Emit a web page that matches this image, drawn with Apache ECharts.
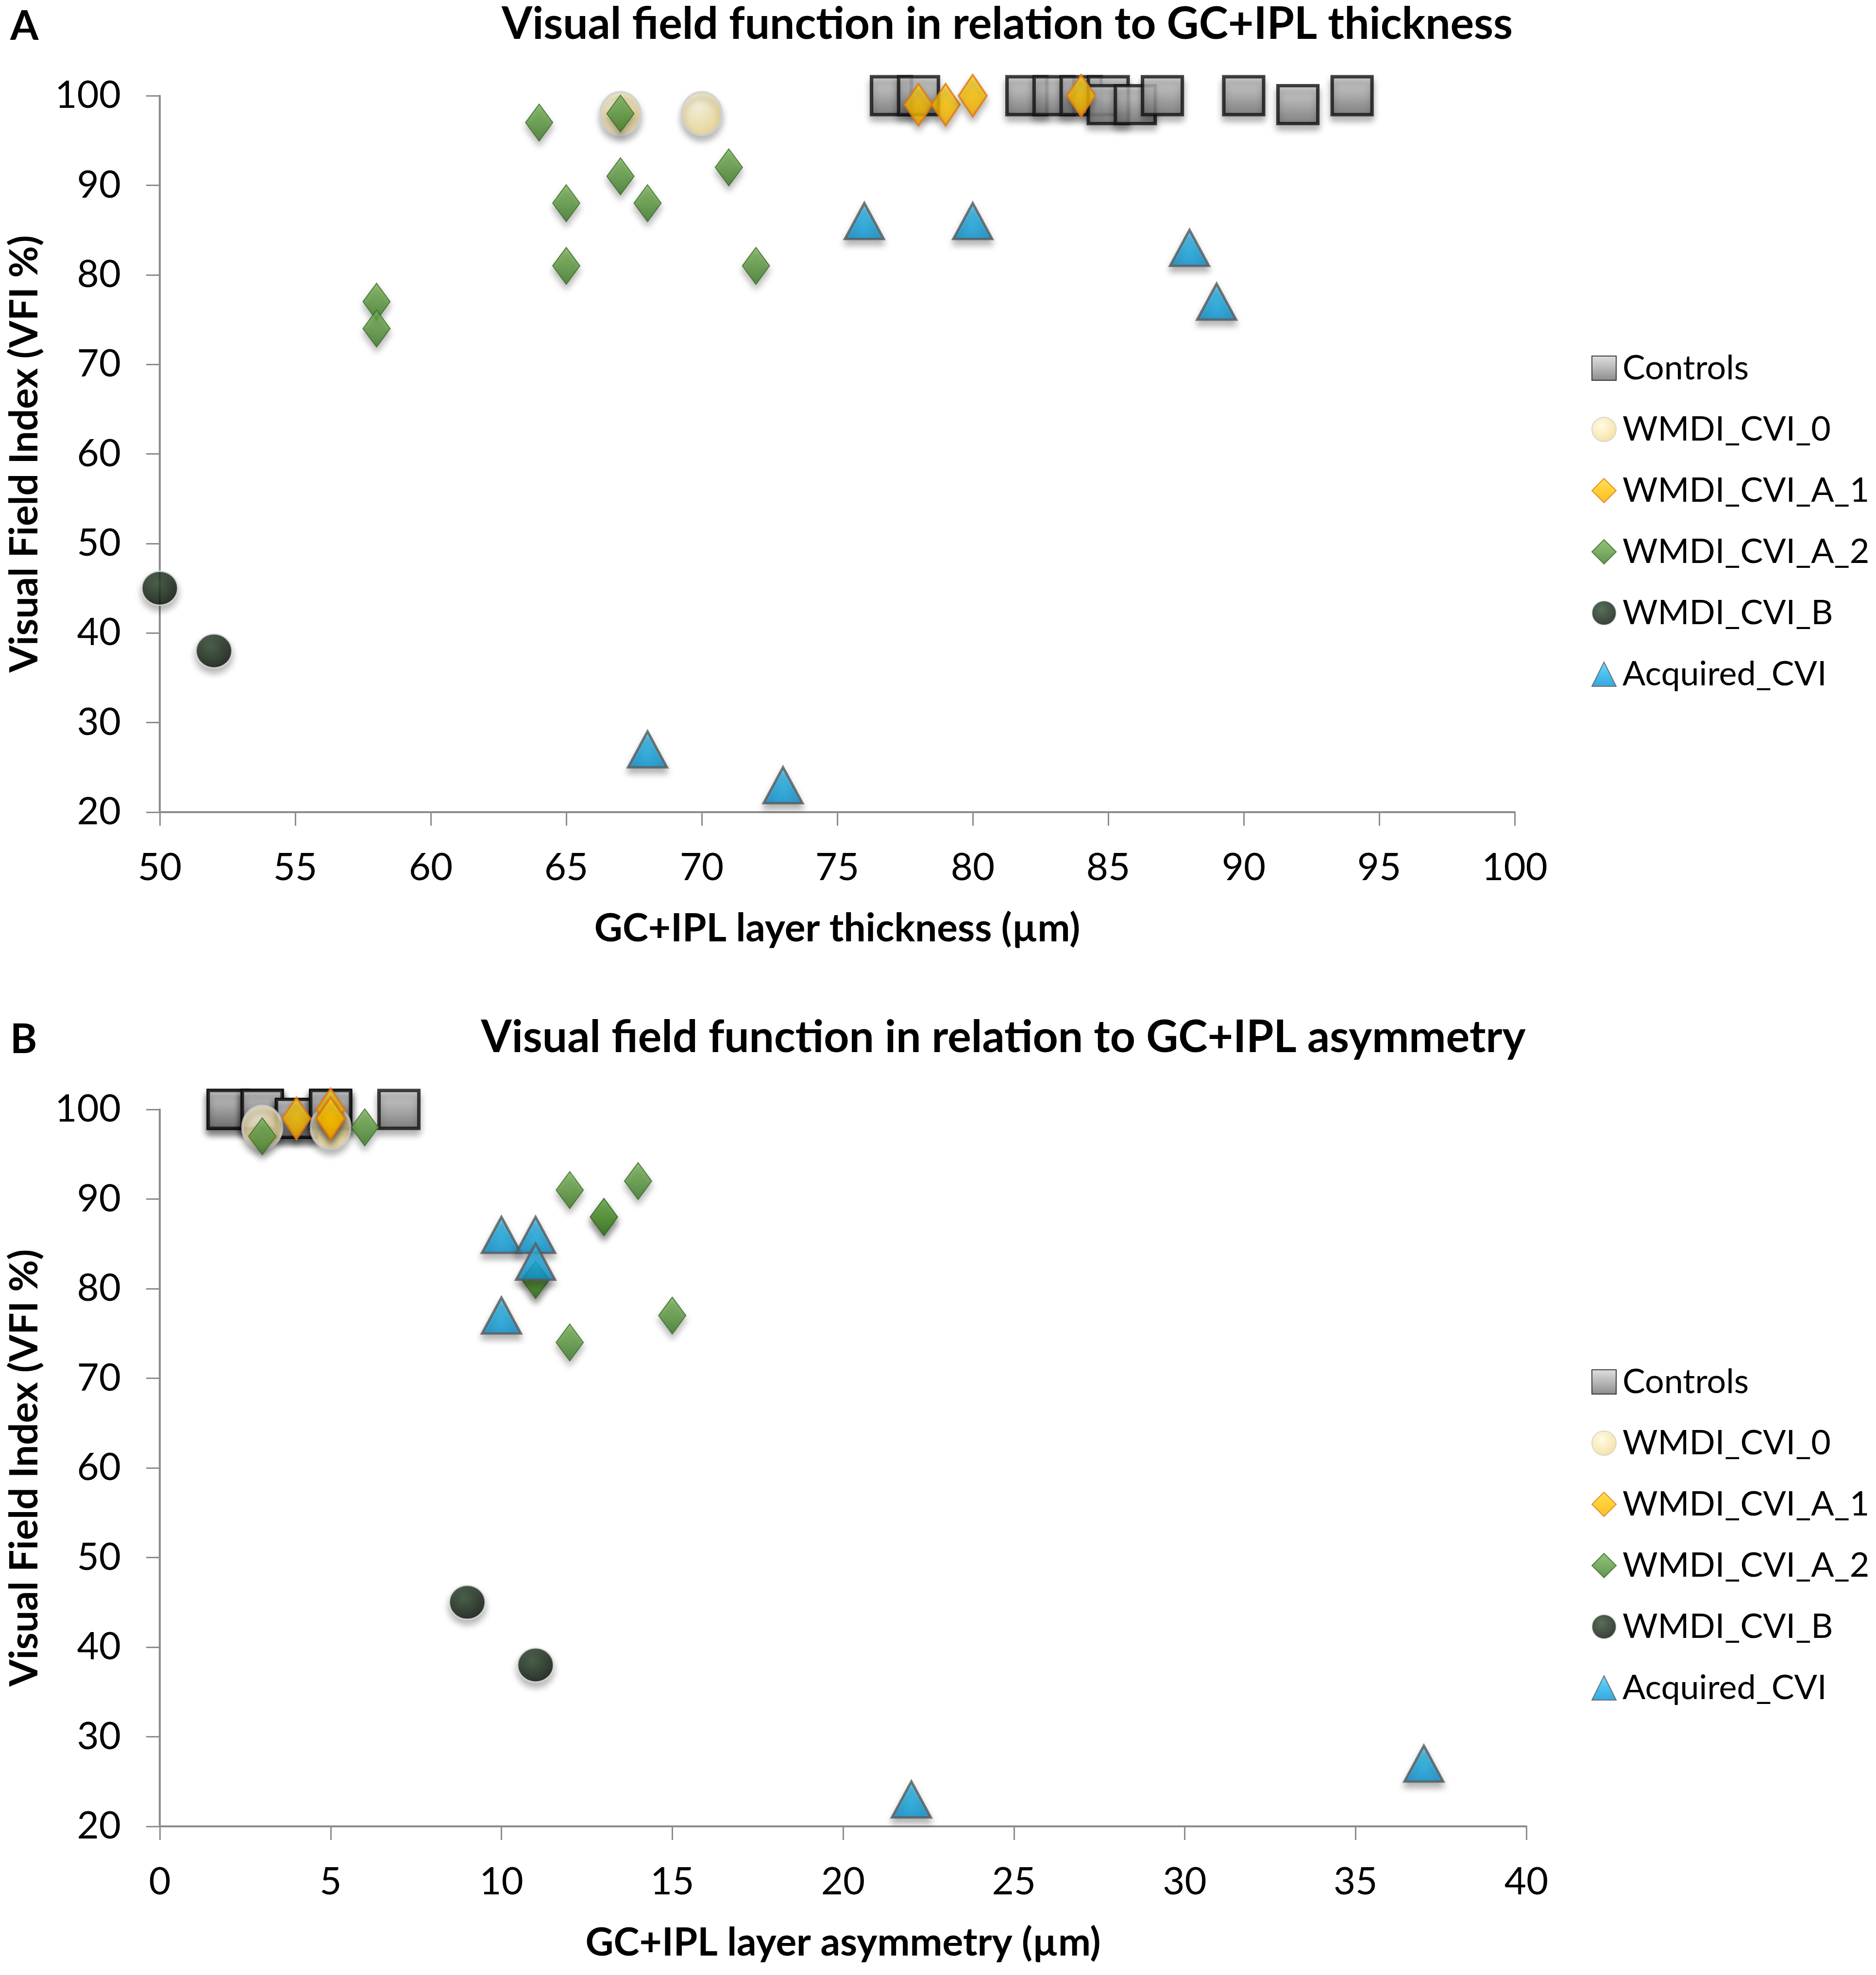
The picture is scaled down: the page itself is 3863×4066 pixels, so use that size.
<!DOCTYPE html>
<html>
<head>
<meta charset="utf-8">
<script src="https://cdn.jsdelivr.net/npm/echarts@6/dist/echarts.min.js"></script>
<style>
    html, body {margin: 0; padding: 0; background: #fff;}
    #main {width: 3863px; height: 4066px;}
</style>
</head>
<body>
<div id="main"></div>
<script>
// panel A: [thickness (µm), VFI %]
let controlsA = [[77, 100], [78, 100], [82, 100], [83, 100], [84, 100], [85, 100], [85, 99], [86, 99], [87, 100], [90, 100], [92, 99], [94, 100]];
let cvi0A = [[67, 98], [70, 98]];
let cviA1A = [[78, 99], [79, 99], [80, 100], [84, 100]];
let cviA2A = [[64, 97], [67, 98], [65, 88], [67, 91], [68, 88], [71, 92], [65, 81], [72, 81], [58, 77], [58, 74]];
let cviBA = [[50, 45], [52, 38]];
let acquiredA = [[76, 86], [80, 86], [88, 83], [89, 77], [68, 27], [73, 23]];

// panel B: [asymmetry (µm), VFI %]
let controlsB = [[2, 100], [2, 100], [3, 100], [3, 100], [3, 100], [4, 99], [4, 99], [4, 99], [5, 100], [5, 100], [5, 100], [7, 100]];
let cvi0B = [[3, 98], [5, 98]];
let cviA1B = [[4, 99], [5, 100], [5, 99], [5, 99]];
let cviA2B = [[3, 97], [6, 98], [12, 91], [14, 92], [13, 88], [13, 88], [11, 81], [11, 81], [15, 77], [12, 74]];
let cviBB = [[9, 45], [11, 38]];
let acquiredB = [[10, 86], [11, 86], [11, 83], [10, 77], [22, 23], [37, 27]];

let seriesNames = ['Controls', 'WMDI_CVI_0', 'WMDI_CVI_A_1', 'WMDI_CVI_A_2', 'WMDI_CVI_B', 'Acquired_CVI'];
let vfiTicks = {min: 20, max: 100, interval: 10};
let thicknessTicks = {min: 50, max: 100, interval: 5};
let asymTicks = {min: 0, max: 40, interval: 5};

let font = 'Lato';
let shadow = {shadowBlur: 14, shadowOffsetY: 10, shadowColor: 'rgba(0,0,0,0.35)'};

function grad(c1, c2, c3) {
    return {
        type: 'linear', x: 0, y: 0, x2: 0, y2: 1,
        colorStops: [{offset: 0, color: c1}, {offset: 0.5, color: c2}, {offset: 1, color: c3}]
    };
}
function radial(c1, c2) {
    return {
        type: 'radial', x: 0.4, y: 0.35, r: 0.7,
        colorStops: [{offset: 0, color: c1}, {offset: 1, color: c2}]
    };
}

let looks = [
    {symbol: 'rect', size: [82, 78], style: {color: grad('#d8d8d8', '#a6a6a6', '#6e6e6e'), borderColor: '#111', borderWidth: 7}},
    {symbol: 'circle', size: [82, 88], style: {color: radial('#fffae0', '#f2d98a'), borderColor: '#cfcfcf', borderWidth: 5}},
    {symbol: 'diamond', size: [58, 86], style: {color: grad('#ffd92e', '#ffc400', '#f5ab00'), borderColor: '#e3780e', borderWidth: 4}},
    {symbol: 'diamond', size: [56, 76], style: {color: grad('#78b458', '#5c9a3e', '#3c7828'), borderColor: '#386a24', borderWidth: 2}},
    {symbol: 'circle', size: [74, 70], style: {color: radial('#2e4a2e', '#040c04'), borderColor: '#e4e4e4', borderWidth: 3}},
    {symbol: 'triangle', size: [80, 74], style: {color: grad('#4fd0ff', '#1ab2ea', '#0a90d0'), borderColor: '#5a5a5a', borderWidth: 5}}
];

function makeSeries(dataList, gridIdx) {
    return dataList.map((d, i) => ({
        name: seriesNames[i],
        type: 'scatter',
        xAxisIndex: gridIdx,
        yAxisIndex: gridIdx,
        symbol: looks[i].symbol,
        symbolSize: looks[i].size,
        itemStyle: Object.assign({}, looks[i].style, shadow),
        data: d
    }));
}

function xAxis(ticks, name, gridIdx) {
    return {
        type: 'value', gridIndex: gridIdx,
        min: ticks.min, max: ticks.max, interval: ticks.interval,
        name: name, nameLocation: 'middle', nameGap: 200,
        nameTextStyle: {fontFamily: font, fontSize: 80, fontWeight: 'bold', color: '#000'},
        axisLine: {show: true, lineStyle: {color: '#8c8c8c', width: 4}},
        axisTick: {show: true, length: 28, lineStyle: {color: '#8c8c8c', width: 3}},
        axisLabel: {fontFamily: font, fontSize: 78, color: '#000', margin: 76},
        splitLine: {show: false}
    };
}
function yAxis(gridIdx) {
    return {
        type: 'value', gridIndex: gridIdx,
        min: vfiTicks.min, max: vfiTicks.max, interval: vfiTicks.interval,
        name: 'Visual Field Index (VFI %)', nameLocation: 'middle', nameGap: 238,
        nameTextStyle: {fontFamily: font, fontSize: 80, fontWeight: 'bold', color: '#000'},
        axisLine: {show: true, lineStyle: {color: '#8c8c8c', width: 4}},
        axisTick: {show: true, length: 28, lineStyle: {color: '#8c8c8c', width: 3}},
        axisLabel: {fontFamily: font, fontSize: 78, color: '#000', margin: 80},
        splitLine: {show: false}
    };
}
function legend(top) {
    return {
        orient: 'vertical', left: 3272, top: top,
        itemWidth: 50, itemHeight: 50, itemGap: 56,
        data: seriesNames,
        textStyle: {fontFamily: font, fontSize: 70, color: '#000', padding: [0, 0, 0, 8]}
    };
}

let chart = echarts.init(document.getElementById('main'));
chart.setOption({
    backgroundColor: '#fff',
    animation: false,
    title: [
        {text: 'A', left: 16, top: 8, textStyle: {fontFamily: font, fontSize: 84, fontWeight: 'bold', color: '#000'}},
        {text: 'Visual field function in relation to GC+IPL thickness', left: 2069, top: 0, textAlign: 'center',
            textStyle: {fontFamily: font, fontSize: 91, fontWeight: 'bold', color: '#000'}},
        {text: 'B', left: 16, top: 2094, textStyle: {fontFamily: font, fontSize: 84, fontWeight: 'bold', color: '#000'}},
        {text: 'Visual field function in relation to GC+IPL asymmetry', left: 2061, top: 2086, textAlign: 'center',
            textStyle: {fontFamily: font, fontSize: 91, fontWeight: 'bold', color: '#000'}}
    ],
    legend: [legend(718), legend(2805)],
    grid: [
        {left: 329, top: 197, width: 2790, height: 1475},
        {left: 329, top: 2284, width: 2814, height: 1476}
    ],
    xAxis: [
        xAxis(thicknessTicks, 'GC+IPL layer thickness (µm)', 0),
        xAxis(asymTicks, 'GC+IPL layer asymmetry (µm)', 1)
    ],
    yAxis: [yAxis(0), yAxis(1)],
    series: makeSeries([controlsA, cvi0A, cviA1A, cviA2A, cviBA, acquiredA], 0)
        .concat(makeSeries([controlsB, cvi0B, cviA1B, cviA2B, cviBB, acquiredB], 1))
});
</script>
</body>
</html>
